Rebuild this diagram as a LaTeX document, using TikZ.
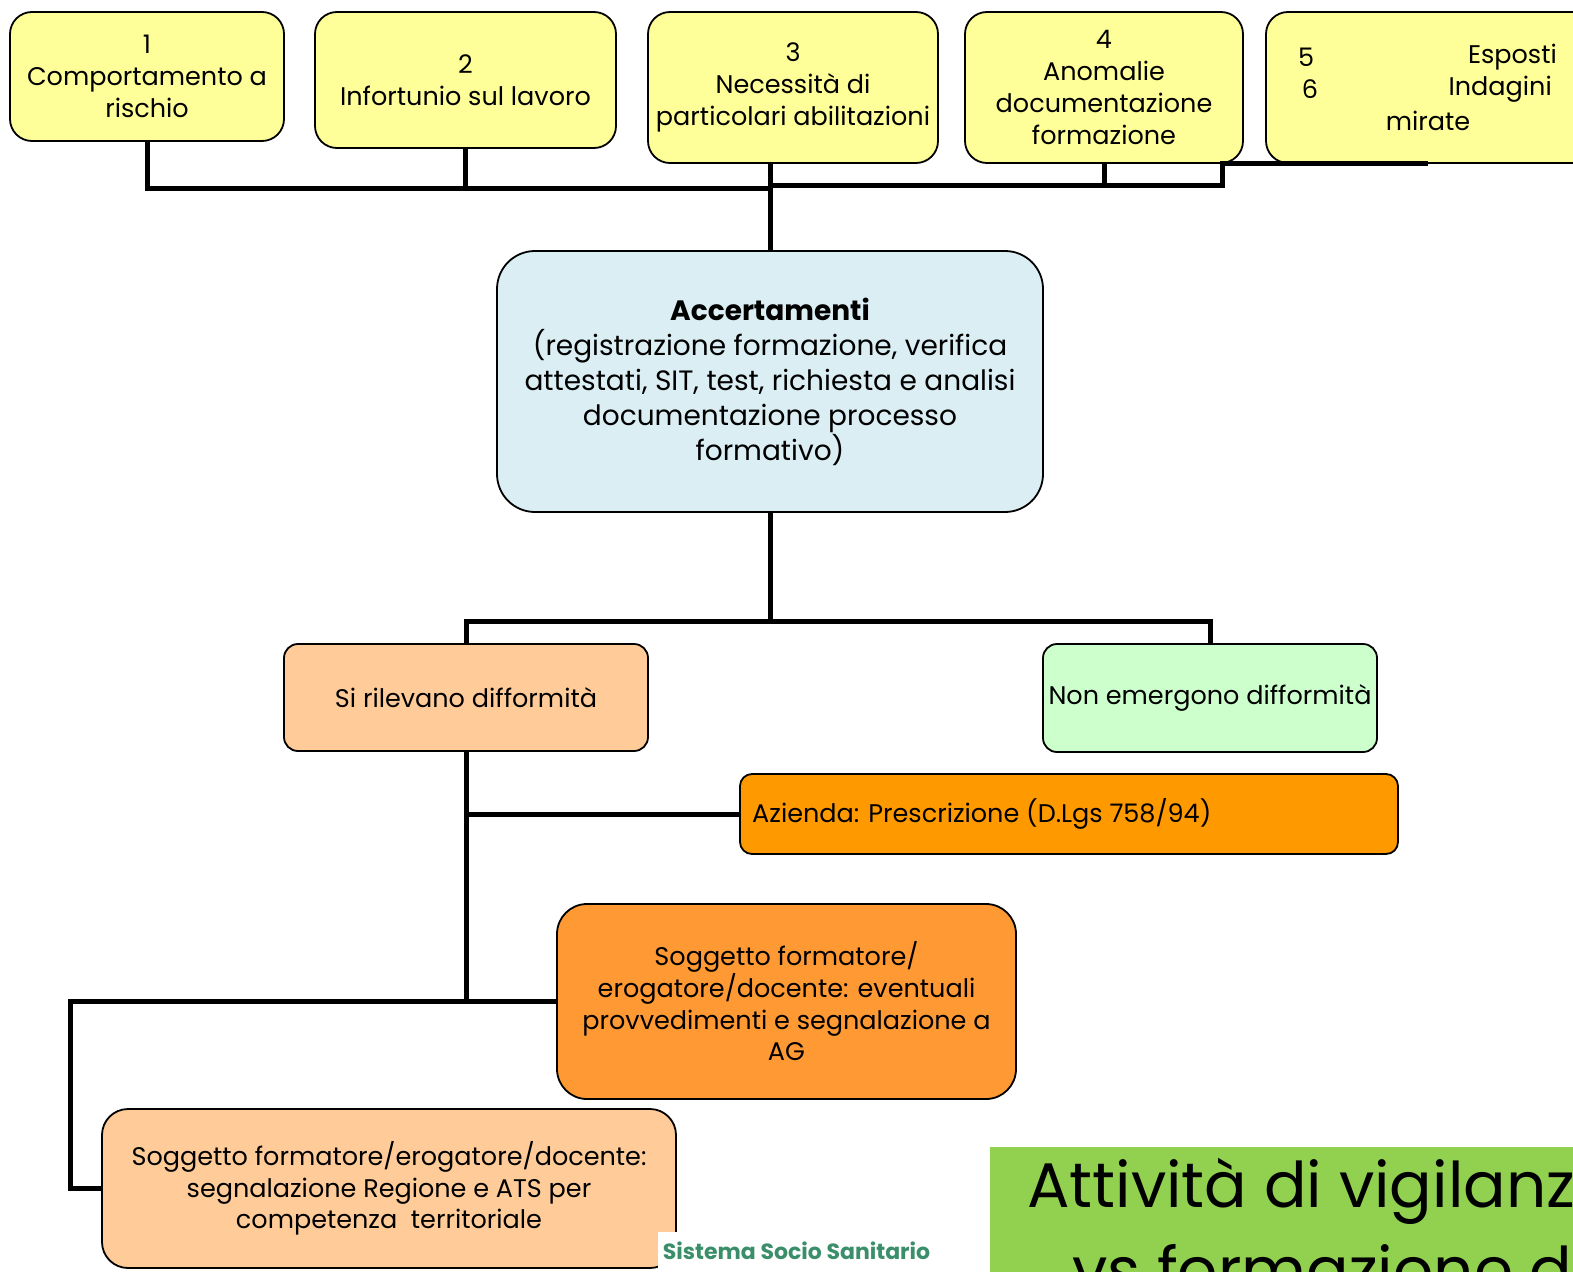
\documentclass[tikz,border=0pt]{standalone}
\usepackage{fontspec}
\setmainfont{Poppins}
\definecolor{ylw}{HTML}{FFFF99}
\definecolor{lblue}{HTML}{DAEEF3}
\definecolor{peach}{HTML}{FFCC99}
\definecolor{lgreen}{HTML}{CCFFCC}
\definecolor{orng}{HTML}{FF9900}
\definecolor{orng2}{HTML}{FF9933}
\definecolor{titlegreen}{HTML}{92D050}
\definecolor{logogreen}{HTML}{3A8F6A}
\begin{document}
\begin{tikzpicture}[x=1pt,y=-1pt,
  box/.style={draw=black, line width=1.8pt, rounded corners=22pt, align=center, inner sep=0pt,
    font=\fontsize{25.5}{31.7}\selectfont},
  conn/.style={draw=black, line width=5pt},
  lbl/.style={inner sep=0pt, font=\fontsize{25.5}{31.7}\selectfont}]
\useasboundingbox (0,0) rectangle (1573,1271);
\clip (0,0) rectangle (1573,1271);
\fill[white] (0,0) rectangle (1573,1271);

% top row
\node[box, fill=ylw, minimum width=274pt, minimum height=129pt] (b1) at (147,76.5) {1\\Comportamento a\\rischio};
\node[box, fill=ylw, minimum width=301pt, minimum height=136pt] (b2) at (465.5,80) {2\\Infortunio sul lavoro};
\node[box, fill=ylw, minimum width=290pt, minimum height=151pt] (b3) at (793,87.5) {3\\Necessità di\\particolari abilitazioni};
\node[box, fill=ylw, minimum width=278pt, minimum height=151pt] (b4) at (1104,87.5) {4\\Anomalie\\documentazione\\formazione};
\node[box, fill=ylw, minimum width=334pt, minimum height=151pt] (b5) at (1433,87.5) {};
\node[lbl] (t5) at (1306,57) {5};
\node[lbl, anchor=east] (t5b) at (1557,57) {Esposti};
\node[lbl] (t6) at (1310,89) {6};
\node[lbl, anchor=east] (t6b) at (1552,89) {Indagini};
\node[lbl] (t6c) at (1428,121) {mirate};

% central box
\node[box, fill=lblue, rounded corners=38pt, minimum width=546pt, minimum height=261pt,
  font=\fontsize{28}{35}\selectfont] (acc) at (770,381.5)
  {\textbf{Accertamenti}\\(registrazione formazione, verifica\\attestati, SIT, test, richiesta e analisi\\documentazione processo\\formativo)};

% outcomes
\node[box, fill=peach, rounded corners=14pt, minimum width=364pt, minimum height=107pt] (si) at (466,697.5) {Si rilevano difformità};
\node[box, fill=lgreen, rounded corners=14pt, minimum width=334pt, minimum height=108pt] (non) at (1210,698) {Non emergono difformità};
\node[box, fill=orng, rounded corners=12pt, minimum width=658pt, minimum height=80pt] (az) at (1069,814) {};
\node[lbl, anchor=west] (azt) at (752,814) {Azienda: Prescrizione (D.Lgs 758/94)};
\node[box, fill=orng2, rounded corners=30pt, minimum width=459pt, minimum height=195pt] (sf1) at (786.5,1001.5)
  {Soggetto formatore/\\erogatore/docente: eventuali\\provvedimenti e segnalazione a\\AG};
\node[box, fill=peach, rounded corners=26pt, minimum width=574pt, minimum height=159pt] (sf2) at (389,1188.5)
  {Soggetto formatore/erogatore/docente:\\segnalazione Regione e ATS per\\competenza\ \ territoriale};

% title and logo
\fill[titlegreen] (990,1147) rectangle (1700,1400);
\node[inner sep=0pt, anchor=base west, font=\fontsize{63}{80}\selectfont] (title1) at (1027,1207) {Attività di vigilanza};
\node[inner sep=0pt, anchor=base west, font=\fontsize{63}{80}\selectfont] (title2) at (1072,1292) {vs formazione di};
\node[fill=white, inner sep=0pt, minimum width=277pt, minimum height=38pt, text=logogreen,
  font=\bfseries\fontsize{22}{24}\selectfont] (logo) at (796.5,1251) {Sistema Socio Sanitario};

% connectors
\coordinate (hubL) at (770,188);
\coordinate (hubR) at (770,185);
\coordinate (el5) at (1222,163);
\coordinate (j5) at (1428,163);
\draw[conn] (b1.south) |- (hubL);
\draw[conn] (b2.south) -- (b2.south |- hubL);
\draw[conn] (b3.south -| acc.north) -- (acc.north);
\draw[conn] (hubR) -| (b4.south);
\draw[conn] (b4.south |- hubR) -| (el5) -- (j5);
\coordinate (mid) at (770,621);
\draw[conn] (acc.south) -- (mid);
\draw[conn] (si.north) |- (mid) -| (non.north);
\draw[conn] (si.south) -- (si.south |- sf1.west);
\draw[conn] (si.south |- az.west) -- (az.west);
\coordinate (lft) at (70,1001.5);
\draw[conn] (sf1.west) -- (lft) |- (sf2.west);
\end{tikzpicture}
\end{document}
